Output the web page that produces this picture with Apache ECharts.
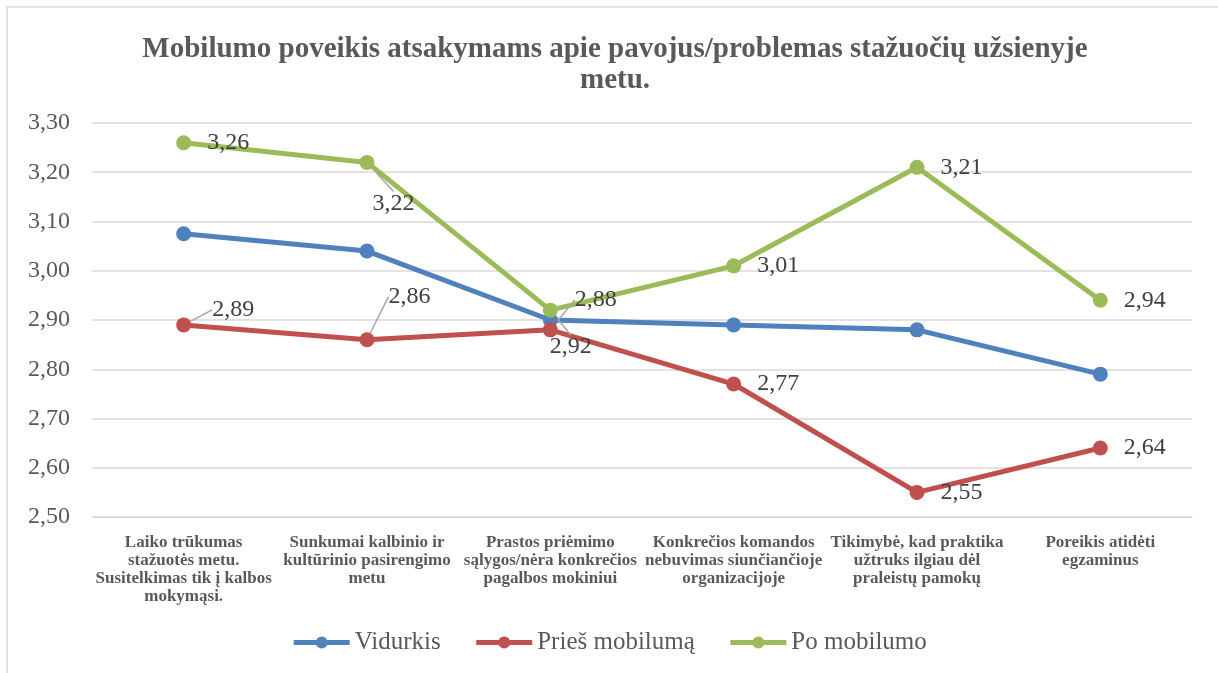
<!DOCTYPE html>
<html>
<head>
<meta charset="utf-8">
<script src="https://cdn.jsdelivr.net/npm/echarts@6/dist/echarts.min.js"></script>
<style>
body{margin:0;background:#fff;}
#chart{width:1218px;height:673px;}
</style>
</head>
<body>
<div id="chart"></div>
<script>
// duomenys
var categories = [
	'Laiko trūkumas\nstažuotės metu.\nSusitelkimas tik į kalbos\nmokymąsi.',
	'Sunkumai kalbinio ir\nkultūrinio pasirengimo\nmetu',
	'Prastos priėmimo\nsąlygos/nėra konkrečios\npagalbos mokiniui',
	'Konkrečios komandos\nnebuvimas siunčiančioje\norganizacijoje',
	'Tikimybė, kad praktika\nužtruks ilgiau dėl\npraleistų pamokų',
	'Poreikis atidėti\negzaminus'
];
var vidurkis = [3.075, 3.04, 2.90, 2.89, 2.88, 2.79];
var priesMobiluma = [2.89, 2.86, 2.88, 2.77, 2.55, 2.64];
var poMobilumo = [3.26, 3.22, 2.92, 3.01, 3.21, 2.94];
var yTicks = [2.5, 3.3, 0.1]; // min, max, interval

var serif = '"Liberation Serif", "DejaVu Serif", serif';

// etikečių poslinkiai (px), null = vietoje
var redShift = [[5, -15], [-2, -43], [1, -30], null, null, null];
var greenShift = [null, [-18, 41], [-24, 37], null, null, null];

function fmt(v){ return v.toFixed(2).replace('.', ','); }

function lineSeries(name, values, color, withLabels, shifts){
	var data = values;
	if(withLabels){
		data = [];
		for(var i=0;i<values.length;i++){
			data.push({value: values[i], labelLine: {show: shifts[i] != null}});
		}
	}
	var s = {
		name: name,
		type: 'line',
		data: data,
		symbol: 'circle',
		symbolSize: 15,
		lineStyle: {width: 5, color: color},
		itemStyle: {color: color},
		label: {show: false}
	};
	if(withLabels){
		s.label = {
			show: true,
			position: 'right',
			distance: 16,
			fontFamily: serif,
			fontSize: 24,
			color: '#404040',
			formatter: function(p){ return fmt(p.value); }
		};
		s.labelLine = {lineStyle: {color: '#a6a6a6', width: 1.5}};
		s.labelLayout = function(p){
			var d = shifts[p.dataIndex];
			if(!d) return {};
			return {dx: d[0], dy: d[1]};
		};
	}
	return s;
}

var myChart = echarts.init(document.getElementById('chart'));
var option = {
	backgroundColor: '#fff',
	animation: false,
	title: {
		text: 'Mobilumo poveikis atsakymams apie pavojus/problemas stažuočių užsienyje\nmetu.',
		left: 610,
		textAlign: 'center',
		top: 29,
		textStyle: {fontFamily: serif, fontWeight: 'bold', fontSize: 29, color: '#595959', lineHeight: 31}
	},
	graphic: [{
		type: 'rect',
		shape: {x: 7, y: 7, width: 1230, height: 700},
		style: {fill: 'none', stroke: '#d9d9d9', lineWidth: 1.5},
		silent: true
	}],
	legend: {
		top: 625,
		left: 'center',
		itemWidth: 56,
		itemHeight: 15,
		itemGap: 33,
		lineStyle: {width: 5},
		textStyle: {fontFamily: serif, fontSize: 25, color: '#595959'},
		data: ['Vidurkis', 'Prieš mobilumą', 'Po mobilumo']
	},
	grid: {left: 92, right: 26, top: 123, bottom: 156},
	xAxis: {
		type: 'category',
		data: categories,
		boundaryGap: true,
		axisLine: {lineStyle: {color: '#d9d9d9'}},
		axisTick: {show: false},
		axisLabel: {
			interval: 0,
			margin: 17,
			fontFamily: serif,
			fontWeight: 'bold',
			fontSize: 17,
			lineHeight: 18,
			color: '#595959'
		}
	},
	yAxis: {
		type: 'value',
		min: yTicks[0],
		max: yTicks[1],
		interval: yTicks[2],
		axisLine: {show: false},
		axisTick: {show: false},
		splitLine: {lineStyle: {color: '#d9d9d9', width: 1.5}},
		axisLabel: {
			margin: 22,
			fontFamily: serif,
			fontSize: 24,
			color: '#595959',
			formatter: function(v){ return fmt(v); }
		}
	},
	series: [
		lineSeries('Vidurkis', vidurkis, '#4f81bd', false),
		lineSeries('Prieš mobilumą', priesMobiluma, '#c0504d', true, redShift),
		lineSeries('Po mobilumo', poMobilumo, '#9bbb59', true, greenShift)
	]
};
myChart.setOption(option);
</script>
</body>
</html>
